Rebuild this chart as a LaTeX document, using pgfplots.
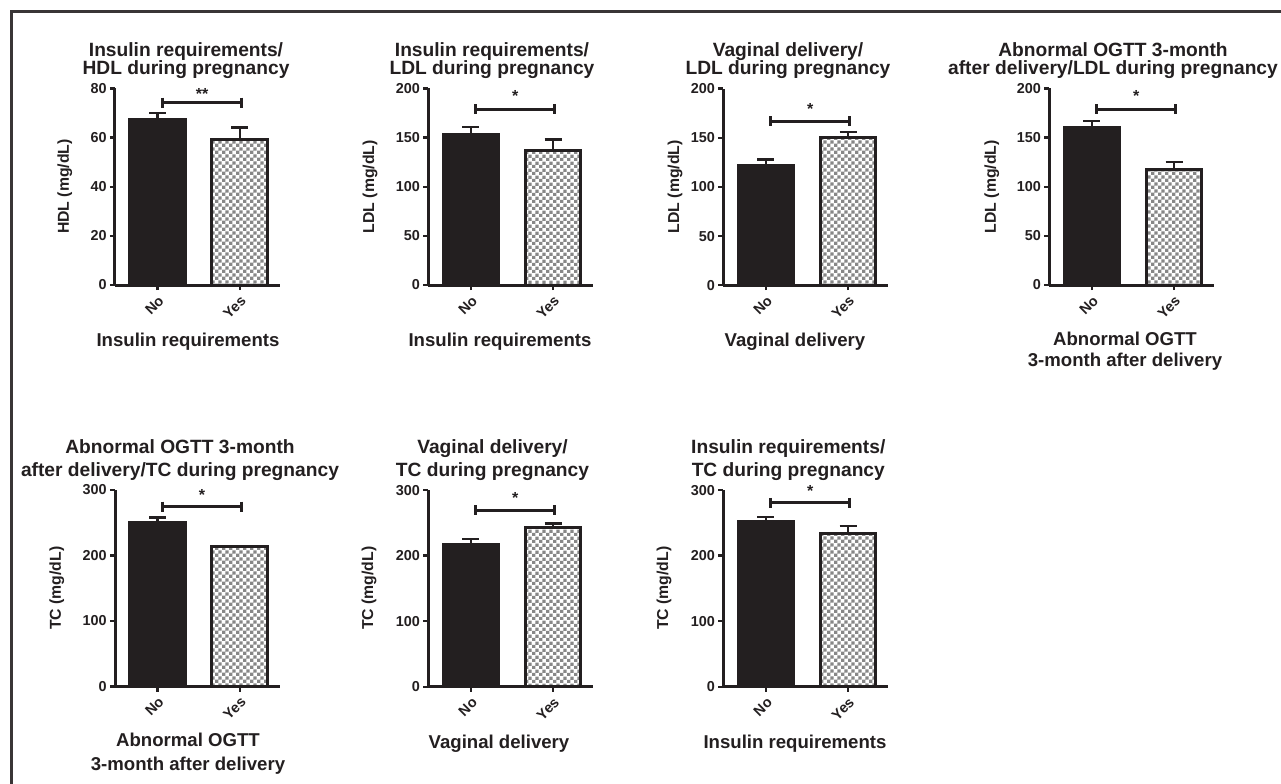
\documentclass[border=0pt]{standalone}
\usepackage{fontspec}
\setmainfont{Liberation Sans}
\usepackage{pgfplots}
\pgfplotsset{compat=1.18}
\usetikzlibrary{patterns}
\pgfdeclarepatternformonly{smallcheck}{\pgfqpoint{0pt}{0pt}}{\pgfqpoint{3.6pt}{3.6pt}}{\pgfqpoint{3.6pt}{3.6pt}}{%
 \pgfpathrectangle{\pgfqpoint{0pt}{0pt}}{\pgfqpoint{1.8pt}{1.8pt}}%
 \pgfpathrectangle{\pgfqpoint{1.8pt}{1.8pt}}{\pgfqpoint{1.8pt}{1.8pt}}%
 \pgfusepath{fill}}
\definecolor{ink}{RGB}{35,31,32}
\definecolor{chk}{RGB}{135,135,135}
\newcommand{\tfont}{\fontsize{9.6}{11}\selectfont\bfseries}
\newcommand{\xlfont}{\fontsize{9.3}{11}\selectfont\bfseries}
\newcommand{\ylfont}{\fontsize{7.9}{9}\selectfont\bfseries}
\newcommand{\sfont}{\fontsize{8}{9}\selectfont\bfseries}
\newcommand{\tkfont}{\fontsize{7.2}{8}\selectfont\bfseries}
\pgfplotsset{
 panel/.style={
  anchor=south west, scale only axis, width=82.5pt, height=98.3pt,
  axis x line=bottom, axis y line=left,
  axis line style={line width=1.5pt, ink, -},
  xmin=-0.52, xmax=1.49, ymin=0,
  xtick={0,1}, xticklabels={No,Yes},
  tick align=outside, major tick length=2.5pt,
  tick style={line width=1.2pt, ink},
  xticklabel style={rotate=45, anchor=north east, font=\tkfont, text=ink, inner sep=1.5pt},
  yticklabel style={font=\tkfont, text=ink, inner sep=1.5pt},
  /pgf/number format/assume math mode=true,
  clip=false,
 },
 nobar/.style={ybar, bar width=0.68, bar shift=0pt, draw=ink, fill=ink, line width=1.5pt,
   error bars/y dir=plus, error bars/y explicit,
   error bars/error bar style={line width=1.2pt, ink},
   error bars/error mark options={rotate=90, mark size=4.25pt, line width=1.2pt, ink}},
 yesbar/.style={ybar, bar width=0.68, bar shift=0pt, draw=ink, pattern=smallcheck, pattern color=chk, line width=1.5pt,
   error bars/y dir=plus, error bars/y explicit,
   error bars/error bar style={line width=1.2pt, ink},
   error bars/error mark options={rotate=90, mark size=4.25pt, line width=1.2pt, ink}},
}
% bracket: #1 = y of bar, #2 = star baseline, #3 = star text
\newcommand{\sig}[3]{%
 \draw[line width=1.5pt, ink] (axis cs:0.06,#1) -- (axis cs:1.02,#1);
 \draw[line width=1.5pt, ink] ([yshift=2.5pt]axis cs:0.06,#1) -- ([yshift=-2.5pt]axis cs:0.06,#1);
 \draw[line width=1.5pt, ink] ([yshift=2.5pt]axis cs:1.02,#1) -- ([yshift=-2.5pt]axis cs:1.02,#1);
 \node[anchor=base, font=\sfont, text=ink, inner sep=0] at (axis cs:0.54,#2) {#3};
}
\begin{document}
\begin{tikzpicture}
\useasboundingbox (0,0) rectangle (640.5pt,-391.5pt);
\fill[white] (0,0) rectangle (640.5pt,-391.5pt);
\draw[line width=1.6pt, ink!90] (5.75pt,-400pt) -- (5.75pt,-5.6pt) -- (650pt,-5.6pt);

% ---------- Panel 1 ----------
\begin{axis}[panel, at={(57.5pt,-142.5pt)}, ymax=80, ytick={0,20,40,60,80}]
\addplot[nobar] coordinates {(0,67.4) +- (0,2.6)};
\addplot[yesbar] coordinates {(1,59.2) +- (0,4.9)};
\sig{74.2}{75.3}{**}
\end{axis}
\node[anchor=base, font=\tfont, text=ink, inner sep=0] at (93pt,-28.35pt) {Insulin requirements/};
\node[anchor=base, font=\tfont, text=ink, inner sep=0] at (93pt,-37pt) {HDL during pregnancy};
\node[rotate=90, font=\ylfont, text=ink, inner sep=0] at (32.35pt,-93.3pt) {HDL (mg/dL)};
\node[anchor=base, font=\xlfont, text=ink, inner sep=0] at (94pt,-173.35pt) {Insulin requirements};

% ---------- Panel 2 ----------
\begin{axis}[panel, at={(214.15pt,-142.5pt)}, ymax=200, ytick={0,50,100,150,200}]
\addplot[nobar] coordinates {(0,153.5) +- (0,7.5)};
\addplot[yesbar] coordinates {(1,137.3) +- (0,10.8)};
\sig{178.6}{187}{*}
\end{axis}
\node[anchor=base, font=\tfont, text=ink, inner sep=0] at (246pt,-28.35pt) {Insulin requirements/};
\node[anchor=base, font=\tfont, text=ink, inner sep=0] at (246pt,-37pt) {LDL during pregnancy};
\node[rotate=90, font=\ylfont, text=ink, inner sep=0] at (185pt,-93.3pt) {LDL (mg/dL)};
\node[anchor=base, font=\xlfont, text=ink, inner sep=0] at (250pt,-173.35pt) {Insulin requirements};

% ---------- Panel 3 ----------
\begin{axis}[panel, at={(361.65pt,-142.6pt)}, ymax=200, ytick={0,50,100,150,200}]
\addplot[nobar] coordinates {(0,121.6) +- (0,6.4)};
\addplot[yesbar] coordinates {(1,150) +- (0,6)};
\sig{167}{174}{*}
\end{axis}
\node[anchor=base, font=\tfont, text=ink, inner sep=0] at (394pt,-28.35pt) {Vaginal delivery/};
\node[anchor=base, font=\tfont, text=ink, inner sep=0] at (394pt,-37pt) {LDL during pregnancy};
\node[rotate=90, font=\ylfont, text=ink, inner sep=0] at (337.5pt,-93.3pt) {LDL (mg/dL)};
\node[anchor=base, font=\xlfont, text=ink, inner sep=0] at (397.5pt,-173.35pt) {Vaginal delivery};

% ---------- Panel 4 ----------
\begin{axis}[panel, at={(524.65pt,-142.5pt)}, ymax=200, ytick={0,50,100,150,200}]
\addplot[nobar] coordinates {(0,160) +- (0,6.7)};
\addplot[yesbar] coordinates {(1,118) +- (0,7.4)};
\sig{178.6}{187}{*}
\end{axis}
\node[anchor=base, font=\tfont, text=ink, inner sep=0] at (556.5pt,-28.35pt) {Abnormal OGTT 3-month};
\node[anchor=base, font=\tfont, text=ink, inner sep=0] at (556.5pt,-37pt) {after delivery/LDL during pregnancy};
\node[rotate=90, font=\ylfont, text=ink, inner sep=0] at (495.85pt,-93.3pt) {LDL (mg/dL)};
\node[anchor=base, font=\xlfont, text=ink, inner sep=0] at (562.5pt,-172.5pt) {Abnormal OGTT};
\node[anchor=base, font=\xlfont, text=ink, inner sep=0] at (562.5pt,-183.35pt) {3-month after delivery};

% ---------- Panel 5 ----------
\begin{axis}[panel, at={(57.5pt,-343.25pt)}, ymax=300, ytick={0,100,200,300}]
\addplot[nobar] coordinates {(0,250) +- (0,8)};
\addplot[yesbar] coordinates {(1,213.2) +- (0,1.6)};
\sig{274.5}{284}{*}
\end{axis}
\node[anchor=base, font=\tfont, text=ink, inner sep=0] at (90pt,-226.85pt) {Abnormal OGTT 3-month};
\node[anchor=base, font=\tfont, text=ink, inner sep=0] at (90pt,-238pt) {after delivery/TC during pregnancy};
\node[rotate=90, font=\ylfont, text=ink, inner sep=0] at (28.35pt,-294.1pt) {TC (mg/dL)};
\node[anchor=base, font=\xlfont, text=ink, inner sep=0] at (94pt,-373.35pt) {Abnormal OGTT};
\node[anchor=base, font=\xlfont, text=ink, inner sep=0] at (94pt,-385pt) {3-month after delivery};

% ---------- Panel 6 ----------
\begin{axis}[panel, at={(214.15pt,-343.35pt)}, ymax=300, ytick={0,100,200,300}]
\addplot[nobar] coordinates {(0,217.2) +- (0,8.1)};
\addplot[yesbar] coordinates {(1,243.1) +- (0,6.1)};
\sig{269.5}{279}{*}
\end{axis}
\node[anchor=base, font=\tfont, text=ink, inner sep=0] at (246.25pt,-226.85pt) {Vaginal delivery/};
\node[anchor=base, font=\tfont, text=ink, inner sep=0] at (246.25pt,-238pt) {TC during pregnancy};
\node[rotate=90, font=\ylfont, text=ink, inner sep=0] at (184.5pt,-294.1pt) {TC (mg/dL)};
\node[anchor=base, font=\xlfont, text=ink, inner sep=0] at (249.5pt,-374.15pt) {Vaginal delivery};

% ---------- Panel 7 ----------
\begin{axis}[panel, at={(361.65pt,-343.35pt)}, ymax=300, ytick={0,100,200,300}]
\addplot[nobar] coordinates {(0,251.7) +- (0,7.6)};
\addplot[yesbar] coordinates {(1,234) +- (0,11.6)};
\sig{280.7}{290.4}{*}
\end{axis}
\node[anchor=base, font=\tfont, text=ink, inner sep=0] at (394.15pt,-226.85pt) {Insulin requirements/};
\node[anchor=base, font=\tfont, text=ink, inner sep=0] at (394.15pt,-238pt) {TC during pregnancy};
\node[rotate=90, font=\ylfont, text=ink, inner sep=0] at (332pt,-294.1pt) {TC (mg/dL)};
\node[anchor=base, font=\xlfont, text=ink, inner sep=0] at (397.5pt,-374.15pt) {Insulin requirements};
\end{tikzpicture}
\end{document}
